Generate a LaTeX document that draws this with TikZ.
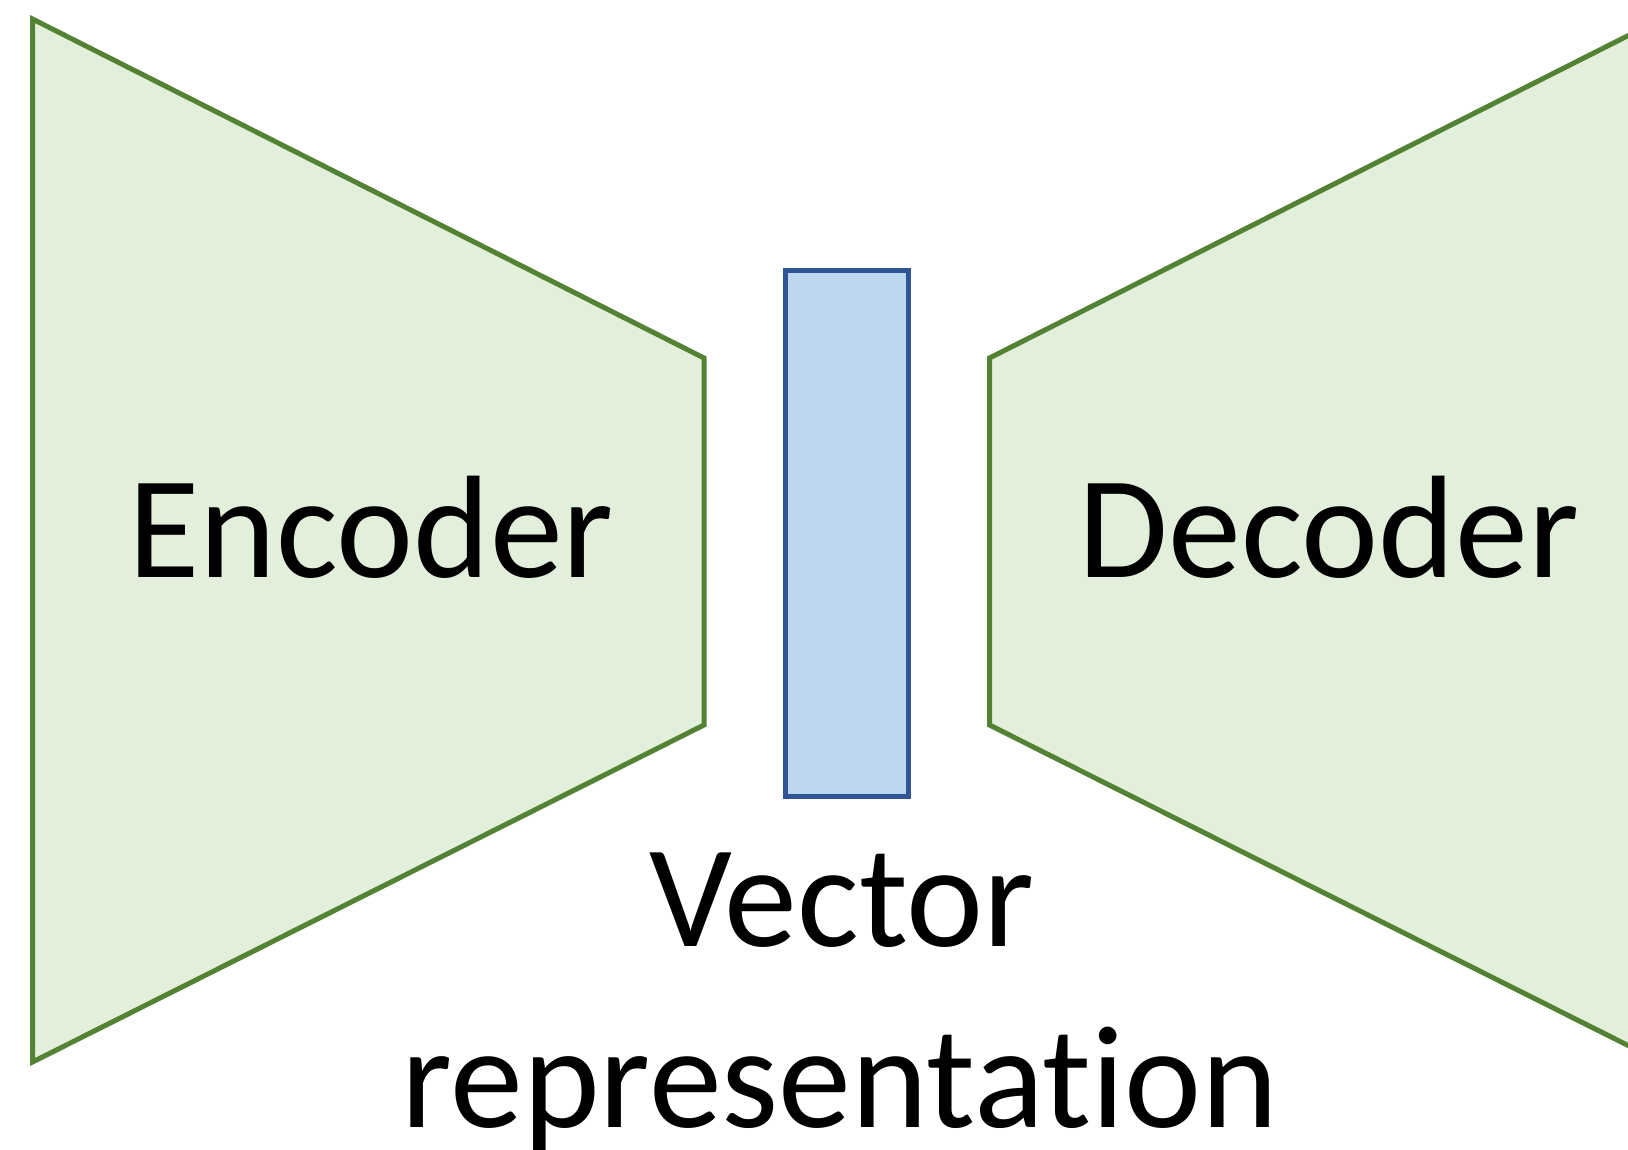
\documentclass[tikz,border=0pt]{standalone}
\usepackage{fontspec}
\setmainfont{Carlito}[Ligatures={NoCommon,NoContextual}]
\definecolor{netgreen}{HTML}{548235}
\definecolor{netfill}{HTML}{E2EFDA}
\definecolor{vecblue}{HTML}{2F5597}
\definecolor{vecfill}{HTML}{BDD7EE}
\tikzset{
  block/.style={draw=netgreen, fill=netfill, line width=5pt, line join=miter},
  vecbox/.style={draw=vecblue, fill=vecfill, line width=5pt},
  label/.style={font=\fontsize{146}{181}\selectfont, text=black, inner sep=0pt, anchor=base, align=center},
}
\begin{document}
\begin{tikzpicture}[x=1pt, y=-1pt]
  \useasboundingbox (0,0) rectangle (1628,1149);
  \clip (0,0) rectangle (1628,1149);
  % encoder funnel
  \draw[block] (32.5,19) -- (704,358) -- (704,725) -- (32.5,1062) -- cycle;
  % decoder funnel (runs past the right edge)
  \draw[block] (989.5,358) -- (1661,19) -- (1661,1062) -- (989.5,725) -- cycle;
  % latent vector
  \draw[vecbox] (785,270) rectangle (908.5,796);
  % labels
  \node[label] (enc) at (371,577) {Encoder};
  \node[label] (dec) at (1329,577) {Decoder};
  \node[label] (vec1) at (842,946) {Vector};
  \node[label] (vec2) at (840,1127) {representation};
\end{tikzpicture}
\end{document}
